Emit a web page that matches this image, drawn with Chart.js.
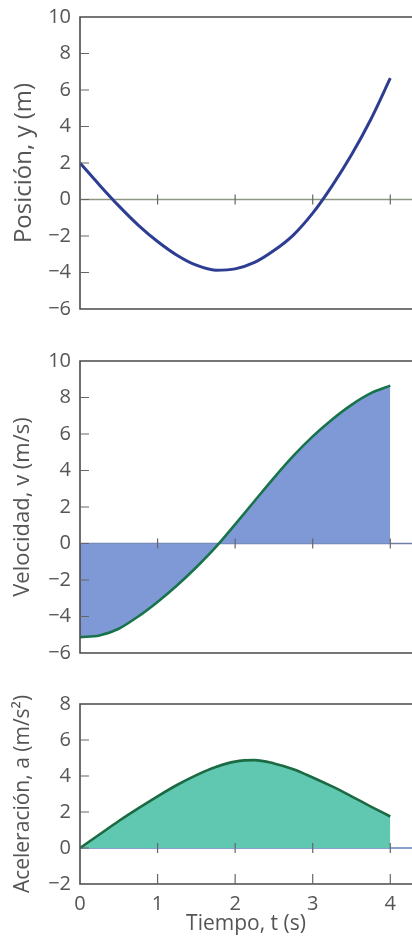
<!DOCTYPE html>
<html lang="es">
<head>
<meta charset="utf-8">
<title>Posición, velocidad y aceleración</title>
<script src="https://cdn.jsdelivr.net/npm/chart.js@4.4.1/dist/chart.umd.min.js"></script>
<style>
    html, body { margin: 0; padding: 0; background: #fff; }
    body { width: 412px; height: 938px; position: relative; overflow: hidden; }
    .panel { position: absolute; left: 0; }
</style>
</head>
<body>
<canvas id="posChart" class="panel" width="412" height="340" style="top:-4px"></canvas>
<canvas id="velChart" class="panel" width="412" height="340" style="top:340px"></canvas>
<canvas id="accChart" class="panel" width="412" height="258" style="top:680px"></canvas>

<script>
// ── Data ──
const tValues   = [0, 0.25, 0.5, 0.75, 1, 1.25, 1.5, 1.75, 2, 2.25, 2.5, 2.75, 3, 3.25, 3.5, 3.75, 4];
const posValues = [2.0, 0.8, -0.35, -1.4, -2.3, -3.05, -3.6, -3.87, -3.8, -3.45, -2.8, -1.95, -0.75, 0.75, 2.45, 4.4, 6.65];
const velValues = [-5.13, -5.04, -4.67, -4.0, -3.2, -2.3, -1.3, -0.2, 1.05, 2.33, 3.6, 4.8, 5.87, 6.8, 7.6, 8.24, 8.65];
const accValues = [0, 0.75, 1.5, 2.2, 2.87, 3.5, 4.05, 4.5, 4.8, 4.88, 4.7, 4.38, 3.92, 3.42, 2.87, 2.3, 1.75];

const tTicks   = [0, 1, 2, 3, 4];
const posTicks = [-6, -4, -2, 0, 2, 4, 6, 8, 10];
const velTicks = [-6, -4, -2, 0, 2, 4, 6, 8, 10];
const accTicks = [-2, 0, 2, 4, 6, 8];

const T_MAX = 4.28;   // plot runs off the right edge of the page

// ── Shared styles ──
const FONT = '"Open Sans", "DejaVu Sans", sans-serif';
const TEXT = '#555';
const fmt = v => v < 0 ? '\u2212' + Math.abs(v) : String(v);
const pts = ys => tValues.map((t, i) => ({ x: t, y: ys[i] }));

// ── Frame, inward ticks and zero line ──
const framePlugin = {
    id: 'frame',
    beforeDatasetsDraw(chart, args, opts) {
        const { ctx, chartArea: a, scales: { y } } = chart;
        const y0 = y.getPixelForValue(0);
        ctx.save();
        ctx.strokeStyle = opts.zeroColor;
        ctx.lineWidth = 1.5;
        ctx.beginPath();
        ctx.moveTo(a.left, y0); ctx.lineTo(a.right, y0);
        ctx.stroke();
        ctx.restore();
    },
    afterDraw(chart, args, opts) {
        const { ctx, chartArea: a, scales: { x, y } } = chart;
        ctx.save();
        ctx.strokeStyle = '#4a4a4a';
        ctx.lineWidth = 1.6;
        ctx.beginPath();
        ctx.moveTo(a.right, a.top); ctx.lineTo(a.left, a.top);
        ctx.lineTo(a.left, a.bottom); ctx.lineTo(a.right, a.bottom);
        ctx.stroke();

        ctx.lineWidth = 1.2;
        ctx.strokeStyle = '#666';
        ctx.beginPath();
        y.ticks.forEach(t => {
            const py = y.getPixelForValue(t.value);
            if (py <= a.top + 1 || py >= a.bottom - 1) return;
            ctx.moveTo(a.left, py); ctx.lineTo(a.left + 9, py);
        });
        const y0 = y.getPixelForValue(0);
        tTicks.forEach(v => {
            if (v === 0) return;
            const px = x.getPixelForValue(v);
            ctx.moveTo(px, y0 - 5); ctx.lineTo(px, y0 + 5);
            if (opts.bottomTicks) { ctx.moveTo(px, a.bottom); ctx.lineTo(px, a.bottom - 10); }
        });
        ctx.stroke();
        ctx.restore();
    }
};

// ── Panel builder ──
function makePanel(id, opts) {
    const yScale = {
        type: 'linear',
        min: opts.yTicks[0], max: opts.yTicks[opts.yTicks.length - 1],
        afterBuildTicks: s => { s.ticks = opts.yTicks.map(v => ({ value: v })); },
        afterFit: s => { s.width = 80; },
        grid: { display: false, drawTicks: false },
        border: { display: false },
        ticks: { padding: 9, color: TEXT, font: { family: FONT, size: 20 }, callback: fmt },
        title: {
            display: true, text: opts.yTitle, color: TEXT,
            font: { family: FONT, size: opts.titleSize }, padding: { top: 10, bottom: 0 }
        }
    };
    const xScale = {
        type: 'linear', min: 0, max: T_MAX,
        display: !!opts.xTitle,
        afterBuildTicks: s => { s.ticks = tTicks.map(v => ({ value: v })); },
        afterFit: s => { if (opts.xTitle) s.height = 54; },
        grid: { display: false, drawTicks: false },
        border: { display: false },
        ticks: { padding: 8, color: TEXT, font: { family: FONT, size: 20 }, maxRotation: 0 },
        title: {
            display: !!opts.xTitle, text: opts.xTitle || '', color: TEXT,
            font: { family: FONT, size: 21 }, padding: { top: 0, bottom: 1 }
        }
    };
    return new Chart(document.getElementById(id), {
        type: 'line',
        data: {
            datasets: [{
                data: pts(opts.values),
                borderColor: opts.line,
                borderWidth: opts.lineWidth || 2.6,
                backgroundColor: opts.fillColor || 'transparent',
                fill: opts.fillColor ? 'origin' : false,
                pointRadius: 0,
                cubicInterpolationMode: 'monotone'
            }]
        },
        options: {
            responsive: false,
            animation: false,
            layout: { padding: opts.padding },
            scales: { x: xScale, y: yScale },
            plugins: {
                legend: { display: false },
                tooltip: { enabled: false },
                frame: { zeroColor: opts.zeroColor, bottomTicks: !!opts.xTitle }
            }
        },
        plugins: [framePlugin]
    });
}

// ── Panels ──
makePanel('posChart', {
    values: posValues, yTicks: posTicks, yTitle: 'Posición, y (m)', titleSize: 24,
    line: '#2c3d92', lineWidth: 3,
    zeroColor: '#8d9883',
    padding: { top: 20, bottom: 27, left: 0, right: 0 }
});

makePanel('velChart', {
    values: velValues, yTicks: velTicks, yTitle: 'Velocidad, v (m/s)', titleSize: 22,
    line: '#17744a', fillColor: '#7f98d6',
    zeroColor: '#6f7fa6',
    padding: { top: 20, bottom: 27, left: 0, right: 0 }
});

makePanel('accChart', {
    values: accValues, yTicks: accTicks, yTitle: 'Aceleración, a (m/s²)', titleSize: 21,
    xTitle: 'Tiempo, t (s)',
    line: '#1c6a43', fillColor: '#60c7b1',
    zeroColor: '#5f7fbf',
    padding: { top: 24, bottom: 0, left: 0, right: 0 }
});
</script>
</body>
</html>
